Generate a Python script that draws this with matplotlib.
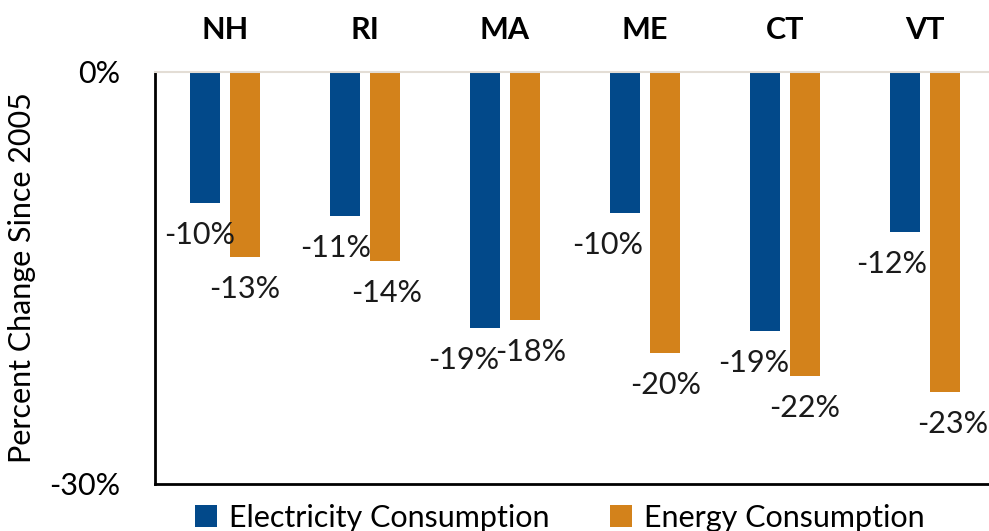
"""
Percent change in electricity and energy consumption since 2005, New England states.
"""
import matplotlib.pyplot as plt
import numpy as np

states = ['NH', 'RI', 'MA', 'ME', 'CT', 'VT']
electricity = [-9.6, -10.5, -18.7, -10.3, -18.9, -11.7]
energy = [-13.5, -13.8, -18.1, -20.5, -22.2, -23.3]
elec_labels = ['-10%', '-11%', '-19%', '-10%', '-19%', '-12%']
energy_labels = ['-13%', '-14%', '-18%', '-20%', '-22%', '-23%']

# manual label nudges (pixels), like the hand-placed labels in the original
elec_dx = [-5, -9, -21, -17, -11, -13]
energy_dx = [0, 2, 6, 1, 0, 8]

BLUE = '#02498A'
ORANGE = '#D3821B'

def main():
    plt.rcParams['font.family'] = ['Lato', 'DejaVu Sans']
    fs = 22

    fig = plt.figure(figsize=(9.89, 5.31), dpi=100)
    W, H = 989, 531
    left, right, top, bottom = 155, 995, 71.7, 483.5
    ax = fig.add_axes([left / W, (H - bottom) / H, (right - left) / W, (bottom - top) / H])

    x = np.arange(len(states))
    w = 0.215
    off = 0.143
    ax.bar(x - off, electricity, w, color=BLUE, label='Electricity Consumption')
    ax.bar(x + off, energy, w, color=ORANGE, label='Energy Consumption')

    px = 72 / 100  # points per pixel
    for i in range(len(states)):
        ax.annotate(elec_labels[i], (x[i] - off, electricity[i]),
                    xytext=(elec_dx[i] * px, -32 * px), textcoords='offset points',
                    ha='center', va='center', fontsize=fs, color='#1a1a1a')
        ax.annotate(energy_labels[i], (x[i] + off, energy[i]),
                    xytext=(energy_dx[i] * px, -32 * px), textcoords='offset points',
                    ha='center', va='center', fontsize=fs, color='#1a1a1a')

    ax.set_xlim(-0.5, len(states) - 0.5)
    ax.set_ylim(-30, 0)
    ax.set_yticks([0, -30])
    ax.set_yticklabels(['0%', '-30%'], fontsize=fs)
    ax.tick_params(axis='y', length=0, pad=25)

    ax.xaxis.tick_top()
    ax.set_xticks(x)
    ax.set_xticklabels(states, fontsize=fs, fontweight='bold')
    ax.tick_params(axis='x', length=0, pad=20)

    ax.set_ylabel('Percent Change Since 2005', fontsize=fs)
    ax.yaxis.set_label_coords(-119 / (right - left), 0.5)

    ax.spines['right'].set_visible(False)
    ax.spines['top'].set_color('#E3DDD5')
    ax.spines['top'].set_linewidth(1.5)
    ax.spines['left'].set_linewidth(2)
    ax.spines['bottom'].set_linewidth(2)

    fig.legend(loc='lower center', bbox_to_anchor=(560 / W, -0.03), ncol=2,
               frameon=False, fontsize=fs, handlelength=0.7, handleheight=0.7,
               handletextpad=0.4, columnspacing=2.0, borderpad=0)

    fig.savefig('out.png', dpi=100)

if __name__ == "__main__":
    main()
